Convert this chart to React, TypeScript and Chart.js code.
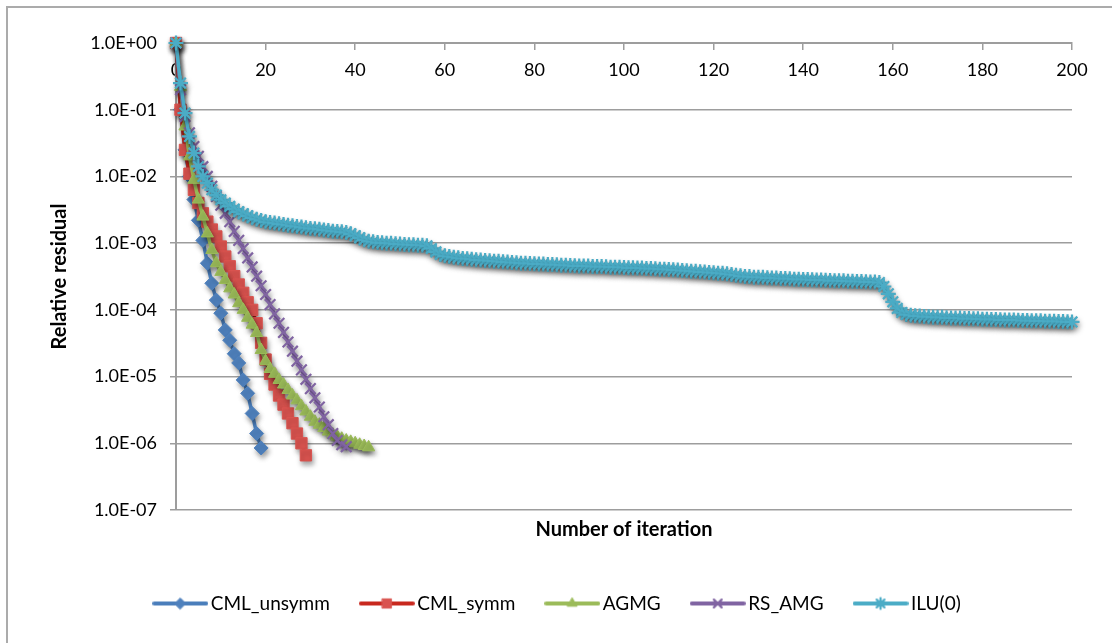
import { useEffect, useRef } from "react";
import { Chart, registerables } from "chart.js";
import { drawPoint } from "chart.js/helpers";

Chart.register(...registerables);

// Axis ticks
const iterationTicks = [0, 20, 40, 60, 80, 100, 120, 140, 160, 180, 200];
const residualTicks = [1e-7, 1e-6, 1e-5, 1e-4, 1e-3, 1e-2, 1e-1, 1];
const residualTickLabels = ["1.0E-07", "1.0E-06", "1.0E-05", "1.0E-04", "1.0E-03", "1.0E-02", "1.0E-01", "1.0E+00"];

const seriesNames = ["CML_unsymm", "CML_symm", "AGMG", "RS_AMG", "ILU(0)"];

// Relative residual per iteration (index = iteration number)
const cmlUnsymm = [
  1, 1.0e-1, 2.5e-2, 1.0e-2, 4.5e-3, 2.2e-3, 1.1e-3, 5.0e-4, 2.5e-4, 1.4e-4,
  8.9e-5, 5.0e-5, 3.5e-5, 2.2e-5, 1.6e-5, 8.9e-6, 5.6e-6, 2.8e-6, 1.4e-6, 8.5e-7,
];

const cmlSymm = [
  1, 1.0e-1, 2.5e-2, 1.1e-2, 6.3e-3, 4.0e-3, 2.8e-3, 2.1e-3, 1.6e-3, 1.26e-3,
  8.9e-4, 6.3e-4, 4.5e-4, 3.2e-4, 2.4e-4, 1.8e-4, 1.3e-4, 1.0e-4, 6.3e-5, 3.2e-5,
  1.8e-5, 1.1e-5, 7.6e-6, 5.2e-6, 3.8e-6, 2.8e-6, 2.0e-6, 1.4e-6, 1.0e-6, 6.6e-7,
];

const agmg = [
  1, 2.2e-1, 5.6e-2, 2.0e-2, 8.9e-3, 4.5e-3, 2.5e-3, 1.4e-3, 7.9e-4, 5.0e-4,
  3.7e-4, 2.8e-4, 2.1e-4, 1.7e-4, 1.26e-4, 1.0e-4, 7.6e-5, 6.0e-5, 4.5e-5, 2.5e-5,
  1.7e-5, 1.3e-5, 1.1e-5, 8.9e-6, 7.6e-6, 6.3e-6, 5.2e-6, 4.4e-6, 3.6e-6, 3.0e-6,
  2.5e-6, 2.1e-6, 1.9e-6, 1.7e-6, 1.5e-6, 1.35e-6, 1.26e-6, 1.17e-6, 1.1e-6, 1.05e-6,
  1.0e-6, 9.5e-7, 9.1e-7, 8.7e-7,
];

const rsAmg = [
  1, 2.0e-1, 7.9e-2, 4.5e-2, 2.8e-2, 2.0e-2, 1.4e-2, 1.0e-2, 7.1e-3, 5.0e-3,
  3.7e-3, 2.8e-3, 2.1e-3, 1.5e-3, 1.1e-3, 8.3e-4, 6.0e-4, 4.4e-4, 3.2e-4, 2.3e-4,
  1.7e-4, 1.2e-4, 8.7e-5, 6.3e-5, 4.6e-5, 3.3e-5, 2.4e-5, 1.7e-5, 1.26e-5, 9.1e-6,
  6.6e-6, 4.8e-6, 3.5e-6, 2.5e-6, 1.9e-6, 1.4e-6, 1.1e-6, 9.5e-7, 8.9e-7,
];

const ilu0 = [
  1, 2.51e-1, 8.91e-2, 3.98e-2, 2.24e-2, 1.41e-2, 1.0e-2, 7.94e-3, 6.31e-3, 5.25e-3,
  4.47e-3, 3.98e-3, 3.55e-3, 3.24e-3, 2.95e-3, 2.75e-3, 2.57e-3, 2.4e-3, 2.29e-3, 2.19e-3,
  2.09e-3, 2.04e-3, 2.0e-3, 1.95e-3, 1.91e-3, 1.86e-3, 1.82e-3, 1.78e-3, 1.74e-3, 1.7e-3,
  1.66e-3, 1.65e-3, 1.62e-3, 1.58e-3, 1.55e-3, 1.51e-3, 1.5e-3, 1.48e-3, 1.45e-3, 1.38e-3,
  1.29e-3, 1.2e-3, 1.12e-3, 1.07e-3, 1.05e-3, 1.02e-3, 1.01e-3, 1.0e-3, 9.95e-4, 9.77e-4,
  9.7e-4, 9.55e-4, 9.5e-4, 9.45e-4, 9.33e-4, 9.3e-4, 9.12e-4, 8.32e-4, 7.41e-4, 6.76e-4,
  6.46e-4, 6.31e-4, 6.17e-4, 6.03e-4, 5.89e-4, 5.85e-4, 5.75e-4, 5.62e-4, 5.58e-4, 5.5e-4,
  5.46e-4, 5.37e-4, 5.33e-4, 5.25e-4, 5.21e-4, 5.13e-4, 5.1e-4, 5.01e-4, 4.99e-4, 4.96e-4,
  4.9e-4, 4.88e-4, 4.86e-4, 4.79e-4, 4.77e-4, 4.75e-4, 4.68e-4, 4.66e-4, 4.64e-4, 4.57e-4,
  4.56e-4, 4.55e-4, 4.53e-4, 4.47e-4, 4.46e-4, 4.45e-4, 4.43e-4, 4.37e-4, 4.36e-4, 4.35e-4,
  4.33e-4, 4.27e-4, 4.26e-4, 4.25e-4, 4.23e-4, 4.17e-4, 4.16e-4, 4.14e-4, 4.07e-4, 4.06e-4,
  4.04e-4, 3.98e-4, 3.96e-4, 3.89e-4, 3.87e-4, 3.8e-4, 3.78e-4, 3.72e-4, 3.7e-4, 3.63e-4,
  3.61e-4, 3.55e-4, 3.53e-4, 3.47e-4, 3.39e-4, 3.31e-4, 3.24e-4, 3.16e-4, 3.15e-4, 3.09e-4,
  3.08e-4, 3.07e-4, 3.02e-4, 3.01e-4, 3.0e-4, 2.95e-4, 2.94e-4, 2.93e-4, 2.88e-4, 2.87e-4,
  2.86e-4, 2.85e-4, 2.82e-4, 2.81e-4, 2.8e-4, 2.79e-4, 2.75e-4, 2.74e-4, 2.73e-4, 2.72e-4,
  2.69e-4, 2.68e-4, 2.67e-4, 2.66e-4, 2.63e-4, 2.62e-4, 2.61e-4, 2.57e-4, 2.24e-4, 1.74e-4,
  1.32e-4, 1.05e-4, 9.12e-5, 8.51e-5, 8.32e-5, 8.13e-5, 8.1e-5, 7.94e-5, 7.9e-5, 7.76e-5,
  7.74e-5, 7.72e-5, 7.59e-5, 7.57e-5, 7.55e-5, 7.53e-5, 7.41e-5, 7.39e-5, 7.37e-5, 7.35e-5,
  7.24e-5, 7.22e-5, 7.2e-5, 7.18e-5, 7.08e-5, 7.06e-5, 7.04e-5, 7.02e-5, 7.0e-5, 6.92e-5,
  6.9e-5, 6.88e-5, 6.86e-5, 6.84e-5, 6.76e-5, 6.74e-5, 6.72e-5, 6.7e-5, 6.68e-5, 6.61e-5,
  6.59e-5,
];

const seriesValues = [cmlUnsymm, cmlSymm, agmg, rsAmg, ilu0];

// Visual style of each series (line colour, marker shape and size)
const seriesStyles = [
  { line: "#4a7ebb", fill: "#4f81bd", point: "rectRot", radius: 7, border: 1, legendRadius: 5.5 },
  { line: "#c8281e", fill: "#d9534f", point: "rect", radius: 8, border: 1, legendRadius: 6.5 },
  { line: "#9bbb59", fill: "#9bbb59", point: "triangle", radius: 7, border: 1, legendRadius: 5.5 },
  { line: "#8064a2", fill: "#8064a2", point: "crossRot", radius: 7.5, border: 2.2, legendRadius: 5.5 },
  { line: "#4bacc6", fill: "#4bacc6", point: "star", radius: 7.5, border: 2.2, legendRadius: 5.5 },
];

const FONT = "Lato";
const GRID = "#9d9d9d";

function legendSwatch(style: any): HTMLCanvasElement {
  const c = document.createElement("canvas");
  c.width = 56;
  c.height = 18;
  const g = c.getContext("2d")!;
  g.strokeStyle = style.line;
  g.lineWidth = 4;
  g.lineCap = "round";
  g.beginPath();
  g.moveTo(2, 9);
  g.lineTo(54, 9);
  g.stroke();
  g.fillStyle = style.fill;
  g.strokeStyle = style.fill;
  g.lineWidth = style.border;
  drawPoint(g, { pointStyle: style.point, radius: style.legendRadius, rotation: 0, borderWidth: style.border } as any, 28, 9);
  return c;
}

const framePlugin = {
  id: "outerFrame",
  beforeDraw(chart: any) {
    const ctx = chart.ctx;
    ctx.save();
    ctx.fillStyle = "#ffffff";
    ctx.fillRect(0, 0, chart.width, chart.height);
    ctx.strokeStyle = "#ababab";
    ctx.lineWidth = 2;
    ctx.beginPath();
    ctx.moveTo(7, chart.height);
    ctx.lineTo(7, 7);
    ctx.lineTo(chart.width, 7);
    ctx.stroke();
    ctx.restore();
  },
};

const shadowPlugin = {
  id: "seriesShadow",
  beforeDatasetsDraw(chart: any) {
    const ctx = chart.ctx;
    ctx.save();
    ctx.shadowColor = "rgba(0,0,0,0.35)";
    ctx.shadowBlur = 5;
    ctx.shadowOffsetX = 1.5;
    ctx.shadowOffsetY = 3.5;
  },
  afterDatasetsDraw(chart: any) {
    chart.ctx.restore();
  },
};

export default function App() {
  const ref = useRef<HTMLCanvasElement>(null);

  useEffect(() => {
    const canvas = ref.current;
    if (!canvas) return;

    const swatches = seriesStyles.map(legendSwatch);

    const datasets = seriesValues.map((values, k) => {
      const s = seriesStyles[k];
      return {
        label: seriesNames[k],
        data: values.map((v, i) => ({ x: i, y: v })),
        xAxisID: "x",
        yAxisID: "y",
        borderColor: s.line,
        borderWidth: 3.5,
        backgroundColor: s.fill,
        pointStyle: s.point,
        pointRadius: s.radius,
        pointBackgroundColor: s.fill,
        pointBorderColor: s.fill,
        pointBorderWidth: s.border,
        tension: 0,
        clip: false,
        order: seriesNames.length - k,
      };
    });

    const chart = new Chart(canvas, {
      type: "line",
      data: { datasets } as any,
      options: {
        animation: false,
        responsive: true,
        maintainAspectRatio: false,
        events: [],
        layout: { padding: { left: 48, right: 40, top: 43, bottom: 20 } },
        plugins: {
          tooltip: { enabled: false },
          legend: {
            position: "bottom",
            labels: {
              usePointStyle: true,
              pointStyleWidth: 42,
              boxHeight: 19,
              padding: 36,
              color: "#000",
              font: { family: FONT, size: 19 },
              generateLabels: () =>
                seriesNames.map((name, k) => ({
                  text: name,
                  pointStyle: swatches[k],
                  fillStyle: seriesStyles[k].fill,
                  strokeStyle: seriesStyles[k].line,
                  lineWidth: 0,
                  hidden: false,
                  datasetIndex: k,
                  fontColor: "#000",
                })) as any,
            },
          },
        },
        scales: {
          x: {
            type: "linear",
            position: { y: 1 } as any,
            min: 0,
            max: 200,
            afterBuildTicks: (s: any) => {
              s.ticks = iterationTicks.map((value) => ({ value }));
            },
            ticks: {
              color: "#000",
              font: { family: FONT, size: 18 },
              padding: 10,
              maxRotation: 0,
              autoSkip: false,
            },
            grid: { drawOnChartArea: false, drawTicks: true, tickLength: 6, color: GRID, lineWidth: 1.5 },
            border: { display: true, color: GRID, width: 2 },
          },
          xTitle: {
            type: "linear",
            axis: "x",
            position: "bottom",
            min: 0,
            max: 200,
            afterFit: (s: any) => {
              s.height = 48;
            },
            ticks: { display: false },
            grid: { display: false, drawTicks: false },
            border: { display: false },
            title: {
              display: true,
              text: "Number of iteration",
              color: "#000",
              font: { family: FONT, size: 20, weight: "bold" },
              padding: { top: 0, bottom: 16 },
            },
          },
          y: {
            type: "logarithmic",
            position: "left",
            min: 1e-7,
            max: 1,
            afterBuildTicks: (s: any) => {
              s.ticks = residualTicks.map((value) => ({ value }));
            },
            afterFit: (s: any) => {
              s.width = 128;
            },
            ticks: {
              callback: (_v: any, i: number) => residualTickLabels[i],
              color: "#000",
              font: { family: FONT, size: 18 },
              padding: 13,
              autoSkip: false,
            },
            grid: { color: GRID, lineWidth: 1.5, tickLength: 6, drawTicks: true },
            border: { display: true, color: GRID, width: 2 },
            title: {
              display: true,
              text: "Relative residual",
              color: "#000",
              font: { family: FONT, size: 20, weight: "bold" },
              padding: { top: 0, bottom: 0 },
            },
          },
        } as any,
      },
      plugins: [framePlugin, shadowPlugin],
    });

    return () => chart.destroy();
  }, []);

  return (
    <div style={{ position: "absolute", left: 0, top: 0, width: 1112, height: 643 }}>
      <canvas ref={ref} />
    </div>
  );
}
